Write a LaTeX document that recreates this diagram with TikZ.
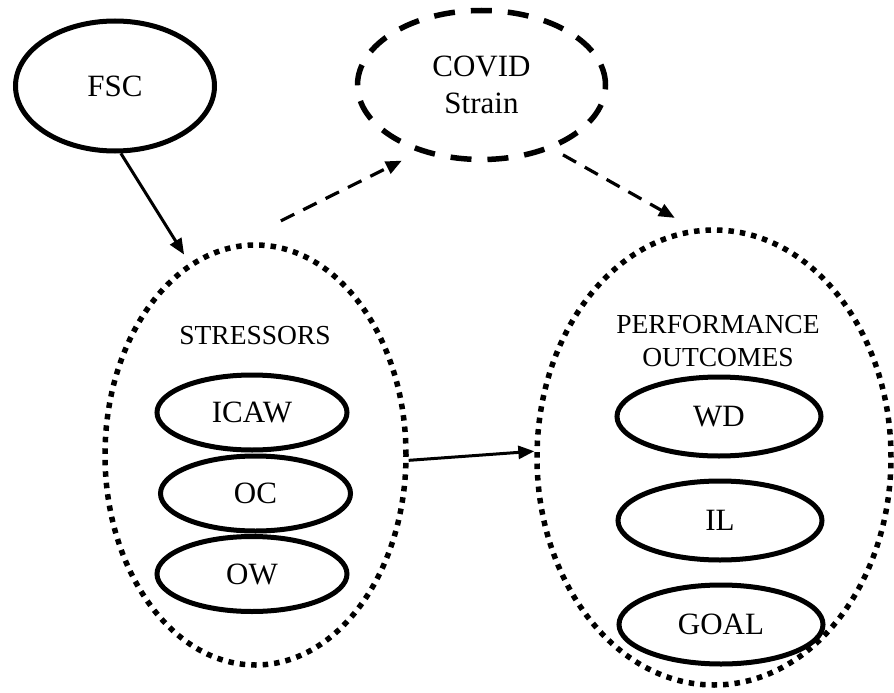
\documentclass[tikz,border=0pt]{standalone}
\usepackage{fontspec}
\setmainfont{Liberation Serif}
\usetikzlibrary{shapes.geometric,arrows.meta}
\tikzset{
  solidell/.style={ellipse, draw, line width=5pt, inner sep=0pt, font=\fontsize{31}{37}\selectfont},
  dotell/.style={ellipse, draw, line width=5.5pt, inner sep=0pt, dash pattern=on 5.5pt off 6pt},
  dashell/.style={ellipse, draw, line width=5.5pt, inner sep=0pt, dash pattern=on 21pt off 16pt, align=center, font=\fontsize{31}{37}\selectfont},
  grouplbl/.style={align=center, inner sep=0pt, font=\fontsize{27.5}{33}\selectfont},
  arr/.style={line width=3pt, -{Triangle[length=16pt,width=13pt]}},
  darr/.style={arr, line width=3.2pt, dash pattern=on 15pt off 10pt},
}
\begin{document}
\begin{tikzpicture}[x=1pt,y=-1pt]
\useasboundingbox (0,0) rectangle (894,693);
% outer groups
\node[dotell, minimum width=301pt, minimum height=420pt] (stress) at (255.5,455) {};
\node[dotell, minimum width=354pt, minimum height=455pt] (perf) at (714,457.5) {};
% top nodes
\node[solidell, minimum width=199pt, minimum height=130pt] (fsc) at (115,86) {FSC};
\node[dashell, minimum width=248pt, minimum height=149pt] (covid) at (481.5,85) {\raisebox{-3pt}{COVID}\\\raisebox{-3pt}{Strain}};
% group labels
\node[grouplbl] (stresslbl) at (255,336) {STRESSORS};
\node[grouplbl] (perflbl) at (718,341) {PERFORMANCE\\OUTCOMES};
% inner stressors
\node[solidell, minimum width=190pt, minimum height=75pt] (icaw) at (252,412.5) {ICAW};
\node[solidell, minimum width=190pt, minimum height=75pt] (oc) at (255.5,493.5) {OC};
\node[solidell, minimum width=190pt, minimum height=75pt] (ow) at (252,574) {OW};
% inner outcomes
\node[solidell, minimum width=204pt, minimum height=79pt] (wd) at (719,416.5) {WD};
\node[solidell, minimum width=204pt, minimum height=79pt] (il) at (720,520.5) {IL};
\node[solidell, minimum width=204pt, minimum height=79pt] (goal) at (721,624.5) {GOAL};
% connectors
\draw[arr, shorten >=10pt] (fsc.-85) -- (stress.109.6);
\draw[darr, shorten <=53pt, shorten >=19pt] (stress.96.7) -- (covid.227.5);
\draw[darr, shorten <=12pt, shorten >=22pt] (covid.-42.2) -- (perf.95.5);
\draw[arr] (stress.-2) -- (perf.178);
\end{tikzpicture}
\end{document}
